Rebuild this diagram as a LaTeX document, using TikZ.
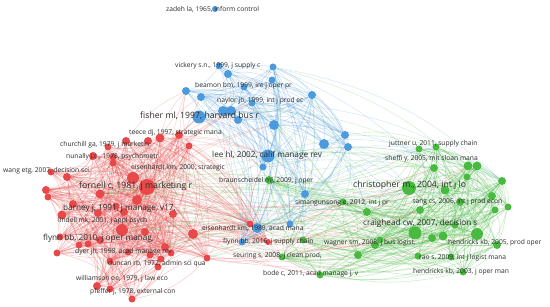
\documentclass[tikz,border=0pt]{standalone}
\usepackage{fontspec}
\setmainfont{Open Sans}
\pgfdeclarelayer{bg}
\pgfsetlayers{bg,main}
\definecolor{nred}{RGB}{232,72,72}
\definecolor{nblue}{RGB}{76,154,222}
\definecolor{ngreen}{RGB}{72,186,64}
\definecolor{labc}{RGB}{45,45,45}
\tikzset{
  vn/.style={circle,inner sep=0pt,fill=#1},
  redge/.style={draw=nred,opacity=0.28,line width=0.5pt},
  bedge/.style={draw=nblue,opacity=0.3,line width=0.5pt},
  gedge/.style={draw=ngreen,opacity=0.3,line width=0.5pt},
  xedge/.style={draw=#1,opacity=0.25,line width=0.45pt},
  lab/.style={text=labc,font=\fontsize{6.7}{8}\selectfont,inner sep=0pt,anchor=west},
  labm/.style={lab,font=\fontsize{8.2}{9}\selectfont},
  labl/.style={lab,font=\fontsize{8.7}{10}\selectfont}
}
\begin{document}
\begin{tikzpicture}[x=1pt,y=-1pt]
\useasboundingbox (0,0) rectangle (550,307);
\begin{pgfonlayer}{bg}\fill[white] (0,0) rectangle (550,307);\end{pgfonlayer}
% blue nodes
\foreach \n/\x/\y/\r in {1/215/9/3,2/219/66/3.5,3/228/74/4,4/273/67/3.5,5/272/80/3.5,6/186/91/4,7/201/97/4,8/244/87/3.5,9/312/95/4,10/252/103/3.5,11/199/117/6.5,12/223/111/5,13/231/111/5,14/238/120/4,15/274/125/5,16/324/144/5,17/345/135/4,18/348/147/4,19/268/156/6.5,20/263/167/3.5,21/305/194/4,22/290/224/3.5,23/257/228/5,24/242/242/3.5}
  \node[vn=nblue,minimum size={2*\r}] (b\n) at (\x,\y) {};
% red nodes
\foreach \n/\x/\y/\r in {1/160/138/4.5,2/148/141/4,3/189/146/3.5,4/179/135/4,5/126/141/4,6/108/147/3.5,7/93/156/4,8/113/157/3.5,9/113/163/3.5,10/67/177/4,11/51/172/3.5,12/133/178/6,13/147/187/8,14/46/190/4,15/48/197/3.5,16/100/194/4.5,17/137/200/5,18/73/204/4,19/62/215/4.5,20/98/213/4,21/173/214/4,22/122/230/6,23/145/232/4,24/193/234/5,25/60/237/3.5,26/100/240/4,27/79/245/3.5,28/88/244/3.5,29/57/253/3.5,30/110/261/3.5,31/128/252/3.5,32/165/247/4,33/161/259/3.5,34/158/267/3.5,35/171/253/3.5,36/150/255/3.5,37/207/258/3.5,38/97/286/4,39/110/289/3.5,40/132/299/3.5,41/250/224/3.5,42/268/242/3,43/124/212/4,44/116/206/3.5}
  \node[vn=nred,minimum size={2*\r}] (r\n) at (\x,\y) {};
% green nodes
\foreach \n/\x/\y/\r in {1/419/149/3.5,2/436/147/3.5,3/434/168/4,4/468/166/4.5,5/477/166/4.5,6/502/181/4,7/409/188/7,8/445/190/4.5,9/467/177/3.5,10/492/196/4,11/420/210/4,12/460/202/4,13/495/210/3.5,14/508/207/3.5,15/415/233/6.5,16/477/234/6,17/432/238/4,18/443/236/4.5,19/497/245/4,20/418/256/3.5,21/451/257/3.5,22/463/272/3.5,23/375/245/4,24/358/255/4,25/320/275/3.5,26/303/240/3.5,27/282/257/3.5,28/269/180/4,29/343/202/3.5,30/367/212/4,31/380/240/3.5,32/455/225/3.5}
  \node[vn=ngreen,minimum size={2*\r}] (g\n) at (\x,\y) {};
% edges
\begin{pgfonlayer}{bg}
\pgfmathsetseed{11}
\foreach \i in {1,...,44}{\foreach \j in {1,...,44}{\ifnum\j>\i
  \pgfmathparse{rnd}\ifdim\pgfmathresult pt<0.5pt \draw[redge] (r\i) to[bend left=18] (r\j);\fi\fi}}
\foreach \i in {2,...,24}{\foreach \j in {2,...,24}{\ifnum\j>\i
  \pgfmathparse{rnd}\ifdim\pgfmathresult pt<0.55pt \draw[bedge] (b\i) to[bend left=18] (b\j);\fi\fi}}
\foreach \i in {1,...,32}{\foreach \j in {1,...,32}{\ifnum\j>\i
  \pgfmathparse{rnd}\ifdim\pgfmathresult pt<0.6pt \draw[gedge] (g\i) to[bend left=18] (g\j);\fi\fi}}
% red - green
\foreach \i in {12,13,16,17,22,24,41,42,37,21,23,32}{\foreach \j in {7,15,16,28,29,30,23,24,25,26,27,31,18,4,3,11}{
  \pgfmathparse{rnd}\ifdim\pgfmathresult pt<0.18pt \draw[xedge=nred] (r\i) to[bend right=14] (g\j);\fi
  \pgfmathparse{rnd}\ifdim\pgfmathresult pt<0.14pt \draw[xedge=ngreen] (g\j) to[bend right=14] (r\i);\fi}}
% red - blue
\foreach \i in {1,2,3,4,5,12,13,22,17,24,41,21}{\foreach \j in {6,7,11,12,13,14,15,19,20,23,24,10}{
  \pgfmathparse{rnd}\ifdim\pgfmathresult pt<0.24pt \draw[xedge=nred] (r\i) to[bend left=14] (b\j);\fi}}
% blue - green
\foreach \i in {9,15,16,17,18,19,21,22,23,24,5,10,4,11}{\foreach \j in {1,2,3,4,6,7,8,15,16,28,29,30,23,24,26,27,10}{
  \pgfmathparse{rnd}\ifdim\pgfmathresult pt<0.15pt \draw[xedge=nblue] (b\i) to[bend left=16] (g\j);\fi
  \pgfmathparse{rnd}\ifdim\pgfmathresult pt<0.12pt \draw[xedge=ngreen] (g\j) to[bend right=16] (b\i);\fi}}
\end{pgfonlayer}
% labels
\node[lab] (l1) at (166,9) {zadeh la, 1965, inform control};
\node[lab] (l2) at (175,66) {vickery s.n., 1999, j supply c};
\node[lab] (l3) at (195,86) {beamon bm, 1999, int j oper pr};
\node[lab] (l4) at (217,101) {naylor jb, 1999, int j prod ec};
\node[labl] (l5) at (140,116) {fisher ml, 1997, harvard bus r};
\node[lab] (l6) at (129,133) {teece dj, 1997, strategic mana};
\node[lab] (l7) at (60,145) {churchill ga, 1979, j marketin};
\node[lab] (l8) at (66,157) {nunally j.c., 1978, psychometr};
\node[lab] (l9) at (3,171) {wang etg, 2007, decision sci.};
\node[lab] (l10) at (131,168) {eisenhardt km, 2000, strategic};
\node[labm] (l11) at (212,155) {lee hl, 2002, calif manage rev};
\node[lab] (l12) at (219,181) {braunscheidel mj, 2009, j oper};
\node[labl] (l13) at (79,186) {fornell c, 1981, j marketing r};
\node[labl] (l14) at (353,185) {christopher m., 2004, int j lo};
\node[lab] (l15) at (389,144) {juttner u, 2011, supply chain};
\node[lab] (l16) at (385,159) {sheffi y, 2005, mit sloan mana};
\node[lab] (l17) at (295,203) {simangunsong e, 2012, int j pr};
\node[lab] (l18) at (413,202) {tang cs, 2006, int j prod econ};
\node[labm] (l19) at (63,208) {barney j, 1991, j manage, v17,};
\node[lab] (l20) at (58,221) {lindell mk, 2001, j appl psych};
\node[labm] (l21) at (363,223) {craighead cw, 2007, decision s};
\node[lab] (l22) at (202,228) {eisenhardt km, 1989, acad mana};
\node[labm] (l23) at (43,238) {flynn bb, 2010, j oper manag,};
\node[lab] (l24) at (223,242) {flynn bb, 2016, j supply chain};
\node[lab] (l25) at (324,243) {wagner sm, 2008, j bus logist,};
\node[lab] (l26) at (448,243) {hendricks kb, 2005, prod oper};
\node[lab] (l27) at (75,252) {dyer jh, 1998, acad manage rev};
\node[lab] (l28) at (233,256) {seuring s, 2008, j clean prod,};
\node[lab] (l29) at (419,258) {rao s, 2009, int j logist mana};
\node[lab] (l30) at (108,264) {duncan rb, 1972, admin sci qua};
\node[lab] (l31) at (263,274) {bode c, 2011, acad manage j, v};
\node[lab] (l32) at (413,272) {hendricks kb, 2003, j oper man};
\node[lab] (l33) at (76,279) {williamson oe, 1979, j law eco};
\node[lab] (l34) at (90,292) {pfeffer j, 1978, external con};
\end{tikzpicture}
\end{document}
